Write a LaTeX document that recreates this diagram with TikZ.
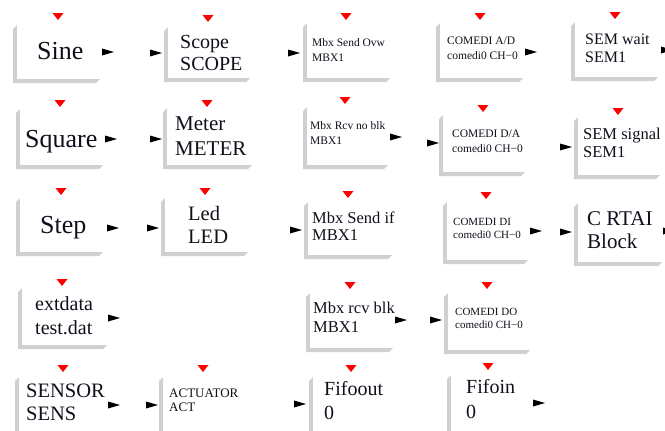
\documentclass[tikz,border=0pt]{standalone}
\usepackage{fontspec}
\setmainfont{Liberation Serif}
\definecolor{bevelgray}{HTML}{D0D0D0}
\definecolor{inkc}{HTML}{10101C}
\tikzset{
  bevel/.style={fill=bevelgray},
  face/.style={rectangle, fill=white, draw=none, inner sep=0pt, outer sep=0pt},
  txt/.style={inner sep=0pt, text=inkc},
}
\newcommand\blk[5]{%
  \fill[bevel] (#2,#3) -- ++(-4,4) -- (#2-4,#5+4) -- (#4-4,#5+4) -- (#4,#5) -- (#2,#5) -- cycle;
  \node[face, minimum width={(#4-#2)*1pt}, minimum height={(#5-#3)*1pt}] (#1) at ({(#2+#4)/2},{(#3+#5)/2}) {};
}
\newcommand\lbl[5]{%
  \node[txt, font=\fontsize{#4}{#4}\selectfont, anchor=base west] (#1) at (#2,#3) {#5};
}
\newcommand\outp[2]{\fill[black] (#1,#2-3.5) -- (#1+12,#2) -- (#1,#2+3.5) -- cycle;}
\newcommand\evt[2]{\fill[red] (#1-5.5,#2) -- (#1+5.5,#2) -- (#1,#2+7) -- cycle;}
\begin{document}
\begin{tikzpicture}[x=1pt,y=-1pt]
\useasboundingbox (0,0) rectangle (665,431);
\clip (0,0) rectangle (665,431);
% ---------- Row 1
\blk{sine}{17}{25}{100}{79}\evt{58}{13}\outp{102}{52}
\lbl{sineT}{37}{59}{26}{Sine}
\blk{scope}{168}{27}{250}{78}\evt{208}{15}\outp{150}{53}
\lbl{scopeA}{180}{48}{20}{Scope}\lbl{scopeB}{180}{70}{20}{SCOPE}
\blk{mso}{307}{23}{390}{78}\evt{346}{13}\outp{288}{53}
\lbl{msoA}{312}{46}{11.5}{Mbx Send Ovw}\lbl{msoB}{312}{61}{11.5}{MBX1}
\blk{cad}{440}{23}{523}{78}\evt{480}{13}\outp{525}{52}
\lbl{cadA}{447}{45}{11.5}{COMEDI A/D}\lbl{cadB}{447}{59}{11.5}{comedi0 CH−0}
\blk{semw}{575}{22}{658}{77}\evt{615}{12}\outp{661}{50}
\lbl{semwA}{585}{44}{16}{SEM wait}\lbl{semwB}{585}{63}{16}{SEM1}
% ---------- Row 2
\blk{square}{20}{109}{103}{165}\evt{60}{100}\outp{105}{139}
\lbl{squareT}{25}{147}{26}{Square}
\blk{meter}{167}{108}{252}{165}\evt{207}{100}\outp{150}{139}
\lbl{meterA}{175}{130}{21}{Meter}\lbl{meterB}{175}{155}{21}{METER}
\blk{mrn}{307}{107}{388}{165}\evt{345}{97}\outp{390}{137}
\lbl{mrnA}{310}{129}{11.5}{Mbx Rcv no blk}\lbl{mrnB}{310}{144}{11.5}{MBX1}
\blk{cda}{443}{115}{525}{172}\evt{483}{105}\outp{427}{143}
\lbl{cdaA}{452}{137}{11.5}{COMEDI D/A}\lbl{cdaB}{452}{152}{11.5}{comedi0 CH−0}
\blk{sems}{578}{117}{660}{175}\evt{618}{108}\outp{560}{147}
\lbl{semsA}{583}{139}{16.5}{SEM signal}\lbl{semsB}{583}{157}{16.5}{SEM1}
% ---------- Row 3
\blk{step}{20}{198}{103}{252}\evt{61}{188}\outp{107}{228}
\lbl{stepT}{40}{233}{26}{Step}
\blk{led}{165}{198}{248}{252}\evt{205}{188}\outp{147}{228}
\lbl{ledA}{188}{220}{20.5}{Led}\lbl{ledB}{188}{243}{20.5}{LED}
\blk{msi}{308}{202}{392}{255}\evt{348}{191}\outp{290}{230}
\lbl{msiA}{312}{223}{16.5}{Mbx Send if}\lbl{msiB}{312}{240}{16.5}{MBX1}
\blk{cdi}{447}{202}{528}{260}\evt{486}{192}\outp{530}{231}
\lbl{cdiA}{453}{225}{11}{COMEDI DI}\lbl{cdiB}{453}{238}{11}{comedi0 CH−0}
\blk{crtai}{578}{203}{662}{262}\outp{560}{232}\outp{663}{231}
\lbl{crtaiA}{587}{225}{21}{C RTAI}\lbl{crtaiB}{587}{248}{21}{Block}
% ---------- Row 4
\blk{ext}{22}{288}{107}{345}\evt{62}{279}\outp{108}{318}
\lbl{extA}{35}{310}{20}{extdata}\lbl{extB}{35}{334}{20}{test.dat}
\blk{mrb}{310}{293}{393}{348}\evt{350}{282}\outp{395}{320}
\lbl{mrbA}{313}{313}{16.5}{Mbx rcv blk}\lbl{mrbB}{313}{332}{16.5}{MBX1}
\blk{cdo}{448}{293}{530}{350}\evt{487}{282}\outp{430}{320}
\lbl{cdoA}{455}{315}{11}{COMEDI DO}\lbl{cdoB}{455}{328}{11}{comedi0 CH−0}
% ---------- Row 5
\blk{sensor}{19}{377}{100}{440}\evt{63}{365}\outp{108}{405}
\lbl{sensorA}{26}{397}{20.5}{SENSOR}\lbl{sensorB}{26}{420}{20.5}{SENS}
\blk{act}{163}{377}{248}{440}\evt{203}{365}\outp{146}{405}
\lbl{actA}{169}{397}{13}{ACTUATOR}\lbl{actB}{169}{411}{13}{ACT}
\blk{fout}{313}{377}{395}{440}\evt{351}{365}\outp{294}{404}
\lbl{foutA}{324}{395}{20}{Fifoout}\lbl{foutB}{324}{419}{20}{0}
\blk{fin}{451}{375}{528}{440}\evt{488}{363}\outp{533}{403}
\lbl{finA}{466}{393}{20}{Fifoin}\lbl{finB}{466}{418}{20}{0}
\end{tikzpicture}
\end{document}
